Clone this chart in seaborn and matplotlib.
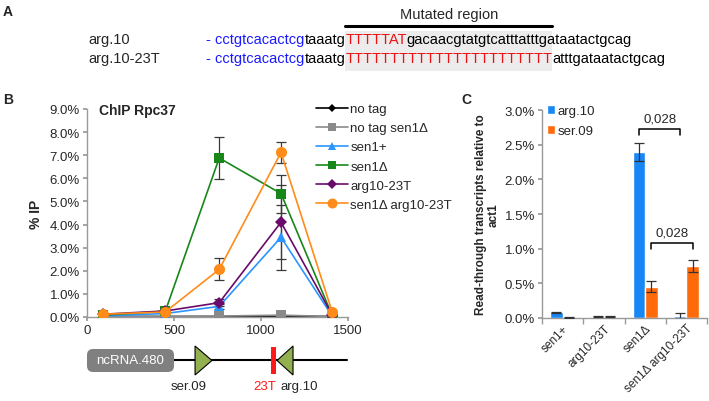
import pandas as pd
import seaborn as sns
import matplotlib.pyplot as plt
from matplotlib.lines import Line2D
from matplotlib.patches import Polygon, Rectangle, FancyBboxPatch
from matplotlib.ticker import FuncFormatter

# ---- panel B data: ChIP Rpc37 (% IP) along the locus
positions = [90, 450, 760, 1115, 1410]
strains = ["no tag", "no tag sen1Δ", "sen1+", "sen1Δ", "arg10-23T", "sen1Δ arg10-23T"]
no_tag = [0.02, 0.02, 0.02, 0.04, 0.02]
no_tag_sen1 = [0.03, 0.03, 0.04, 0.08, 0.02]
sen1_plus = [0.05, 0.15, 0.46, 3.45, 0.03]
sen1_del = [0.08, 0.25, 6.88, 5.34, 0.05]
arg10_23t = [0.12, 0.26, 0.62, 4.10, 0.08]
sen1_del_arg = [0.12, 0.22, 2.06, 7.12, 0.20]
no_tag_err = [0.01, 0.01, 0.01, 0.01, 0.01]
no_tag_sen1_err = [0.01, 0.01, 0.01, 0.02, 0.01]
sen1_plus_err = [0.02, 0.04, 0.10, 1.40, 0.02]
sen1_del_err = [0.03, 0.05, 0.90, 0.82, 0.02]
arg10_23t_err = [0.03, 0.05, 0.16, 1.60, 0.03]
sen1_del_arg_err = [0.03, 0.05, 0.48, 0.44, 0.04]

# ---- panel C data: read-through transcripts relative to act1 (%)
groups = ["sen1+", "arg10-23T", "sen1Δ", "sen1Δ arg10-23T"]
targets = ["arg.10", "ser.09"]
arg10_rt = [0.08, 0.02, 2.39, 0.03]
arg10_rt_err = [0.01, 0.005, 0.13, 0.04]
ser09_rt = [0.01, 0.02, 0.45, 0.75]
ser09_rt_err = [0.005, 0.005, 0.08, 0.08]
pvals = ["0,028", "0,028"]

sns.set_theme(style="ticks")
plt.rcParams["font.family"] = ["Liberation Sans", "DejaVu Sans"]

line_colors = ["#000000", "#8a8a8a", "#2a95ff", "#17871a", "#6a0a6a", "#ff8c1a"]
markers = ["D", "s", "^", "s", "D", "o"]
msizes = [4, 7, 7, 7, 6, 8]
series = [no_tag, no_tag_sen1, sen1_plus, sen1_del, arg10_23t, sen1_del_arg]
errors = [no_tag_err, no_tag_sen1_err, sen1_plus_err, sen1_del_err, arg10_23t_err, sen1_del_arg_err]

W, H = 709, 402
fig = plt.figure(figsize=(7.09, 4.02), dpi=100)

def box(l, t, r, b):
    return [l / W, 1 - b / H, (r - l) / W, (b - t) / H]

# ---------------- panel B
axb = fig.add_axes(box(87, 110, 348, 318))
dfb = pd.DataFrame({
    "pos": positions * len(strains),
    "ip": sum(series, []),
    "strain": [s for s in strains for _ in positions],
})
for i, s in enumerate(strains):
    axb.errorbar(positions, series[i], yerr=errors[i], fmt="none", ecolor="#3a3a3a",
                 elinewidth=0.9, capsize=3.5, capthick=0.9, zorder=1)
    sns.lineplot(data=dfb[dfb.strain == s], x="pos", y="ip", ax=axb, color=line_colors[i],
                 marker=markers[i], markersize=msizes[i], markeredgewidth=0, lw=1.2,
                 legend=False, zorder=2 + i)
axb.set_xlim(0, 1500)
axb.set_ylim(0, 9)
axb.set_xticks([0, 500, 1000, 1500])
axb.set_yticks(range(0, 10))
axb.yaxis.set_major_formatter(FuncFormatter(lambda v, p: f"{v:.1f}%"))
axb.set_xlabel("")
axb.set_ylabel("% IP", fontsize=10, fontweight="bold")
axb.yaxis.set_label_coords(-0.17, 0.5)
axb.text(0.045, 0.995, "ChIP Rpc37", transform=axb.transAxes, fontsize=10,
         fontweight="bold", va="center", ha="left")
handles = [Line2D([0], [0], color=line_colors[i], marker=markers[i], markersize=msizes[i] * 0.9,
                  markeredgewidth=0, lw=1.2) for i in range(len(strains))]
fig.legend(handles, strains, loc="upper left", bbox_to_anchor=(316 / W, 1 - 104 / H),
           frameon=False, fontsize=9.5, handlelength=2.4, handletextpad=0.2,
           labelspacing=0.52, borderpad=0, borderaxespad=0)

# ---------------- panel C
axc = fig.add_axes(box(542, 111, 707, 319))
dfc = pd.DataFrame({
    "group": groups * 2,
    "value": arg10_rt + ser09_rt,
    "target": [t for t in targets for _ in groups],
})
sns.barplot(data=dfc, x="group", y="value", hue="target", ax=axc, width=0.6,
            palette=["#1787f5", "#ff6a0a"], saturation=1, errorbar=None)
centers = {}
for k, (cont, errs) in enumerate(zip(axc.containers, [arg10_rt_err, ser09_rt_err])):
    xs = [p.get_x() + p.get_width() / 2 for p in cont]
    ys = [p.get_height() for p in cont]
    centers[k] = xs
    axc.errorbar(xs, ys, yerr=errs, fmt="none", ecolor="#333333", elinewidth=0.9,
                 capsize=3.5, capthick=0.9, zorder=5)
axc.set_xlim(-0.5, 3.5)
axc.set_ylim(0, 3)
axc.set_yticks([0, 0.5, 1, 1.5, 2, 2.5, 3])
axc.yaxis.set_major_formatter(FuncFormatter(lambda v, p: f"{v:.1f}%"))
axc.set_xlabel("")
axc.set_ylabel("Read-through transcripts relative to\nact1", fontsize=8.5,
               fontweight="bold", linespacing=1.1)
axc.yaxis.set_label_coords(-0.255, 0.5)
axc.set_xticks(range(4))
axc.set_xticklabels(groups, rotation=45, ha="right", rotation_mode="anchor", fontsize=8.5)
axc.set_xticks([-0.5, 0.5, 1.5, 2.5, 3.5], minor=True)
axc.tick_params(axis="x", which="major", length=0, pad=3)
axc.tick_params(axis="x", which="minor", length=4, color="#999999")

# significance brackets
for (x0, x1, yb, lab) in [(centers[0][2], centers[0][3], 2.73, pvals[0]),
                          (centers[1][2], centers[1][3], 1.08, pvals[1])]:
    axc.plot([x0, x0, x1, x1], [yb - 0.09, yb, yb, yb - 0.09], color="black", lw=1.1)
    axc.text((x0 + x1) / 2, yb + 0.06, lab, ha="center", va="bottom", fontsize=9.5)

leg = axc.legend(loc="upper left", bbox_to_anchor=(547 / W, 1 - 106 / H),
                 bbox_transform=fig.transFigure, frameon=False, fontsize=9.5,
                 handlelength=0.6, handleheight=0.7, handletextpad=0.2,
                 labelspacing=0.6, borderpad=0, borderaxespad=0)
leg.set_title(None)

for ax in (axb, axc):
    for sp in ("top", "right"):
        ax.spines[sp].set_visible(False)
    for sp in ("left", "bottom"):
        ax.spines[sp].set_color("#999999")
        ax.spines[sp].set_linewidth(1)
    ax.tick_params(axis="y", labelsize=9.5, length=3, color="#999999", pad=2)
axb.tick_params(axis="x", labelsize=9.5, length=3, color="#999999", pad=2)

# ---------------- gene diagram under panel B (x in bp, like panel B)
axg = fig.add_axes(box(87, 340, 348, 400))
axg.set_xlim(0, 1500)
axg.set_ylim(400, 340)
axg.axis("off")
axg.plot([500, 1494], [361, 361], color="black", lw=1.5, zorder=1)
axg.add_patch(FancyBboxPatch((0, 350), 500, 23, boxstyle="round,pad=0,rounding_size=35",
                             mutation_aspect=0.174, fc="#808080", ec="none", zorder=2))
axg.text(250, 361.5, "ncRNA.480", color="white", fontsize=9.5, ha="center", va="center", zorder=3)
axg.add_patch(Polygon([[621, 347], [621, 376], [718, 361.5]], closed=True, fc="#92b050",
                      ec="black", lw=0.8, zorder=3))
axg.add_patch(Polygon([[1184, 347], [1184, 376], [1092, 361.5]], closed=True, fc="#92b050",
                      ec="black", lw=0.8, zorder=3))
axg.add_patch(Rectangle((1057, 348), 29, 27, fc="#ff1a1a", ec="none", zorder=4))
axg.text(583, 387, "ser.09", fontsize=9.5, ha="center", va="center")
axg.text(1023, 387, "23T", color="#ff1a1a", fontsize=9.5, ha="center", va="center")
axg.text(1218, 387, "arg.10", fontsize=9.5, ha="center", va="center")

# ---------------- panel A and panel letters (overlay in pixel coords)
ov = fig.add_axes([0, 0, 1, 1])
ov.set_xlim(0, W)
ov.set_ylim(H, 0)
ov.axis("off")
ov.patch.set_alpha(0)
for lx, ly, letter in [(8, 12, "A"), (8, 100, "B"), (466, 100, "C")]:
    ov.text(lx, ly, letter, fontsize=10, fontweight="bold", ha="center", va="center")

rows = [
    ("arg.10", 40, [("- cctgtcacactcg", "#1a1aff"), ("taaatg", "black"), ("TTTTTAT", "#ee1111"),
                    ("gacaacgtatgtcatttatttgataatactgcag", "black")]),
    ("arg.10-23T", 59, [("- cctgtcacactcg", "#1a1aff"), ("taaatg", "black"), ("T" * 23, "#ee1111"),
                        ("atttgataatactgcag", "black")]),
]
red_texts = []
for label, y, segs in rows:
    ov.text(88, y, label, fontsize=10.5, va="center", ha="left", zorder=3)
    prev = ov.text(206, y, segs[0][0], color=segs[0][1], fontsize=10.5, va="center", ha="left", zorder=3)
    for txt, col in segs[1:]:
        prev = ov.annotate(txt, xy=(1, 0), xycoords=prev, color=col, fontsize=10.5,
                           va="bottom", ha="left", zorder=3)
        if col == "#ee1111":
            red_texts.append(prev)

fig.canvas.draw()
inv = ov.transData.inverted()
bb = red_texts[1].get_window_extent()
x0 = inv.transform((bb.x0, bb.y0))[0]
x1 = inv.transform((bb.x1, bb.y0))[0]
ov.add_patch(Rectangle((x0, 32), x1 - x0, 40, fc="#ececec", ec="none", zorder=1))
ov.plot([x0, x1], [27, 27], color="black", lw=2.2)
ov.text((x0 + x1) / 2, 15, "Mutated region", fontsize=10.5, ha="center", va="center")

fig.savefig("out.png", dpi=100)
